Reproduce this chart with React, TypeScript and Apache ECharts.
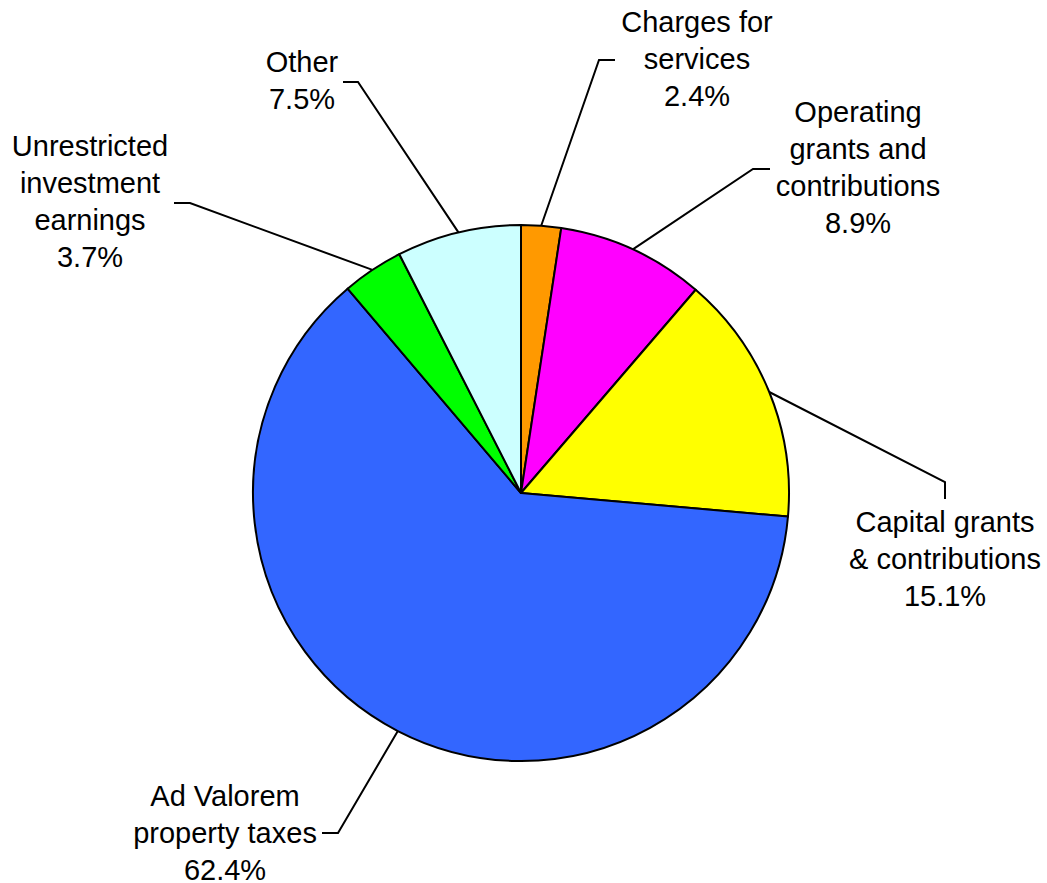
import React, { useEffect, useRef } from "react";
import * as echarts from "echarts";

const categories = [
  "Charges for services",
  "Operating grants and contributions",
  "Capital grants & contributions",
  "Ad Valorem property taxes",
  "Unrestricted investment earnings",
  "Other",
];
const labelTexts = [
  "Charges for\nservices",
  "Operating\ngrants and\ncontributions",
  "Capital grants\n& contributions",
  "Ad Valorem\nproperty taxes",
  "Unrestricted\ninvestment\nearnings",
  "Other",
];
const percentValues = [2.4, 8.9, 15.1, 62.4, 3.7, 7.5];
const sliceColors = ["#FF9900", "#FF00FF", "#FFFF00", "#3366FF", "#00FF00", "#CCFFFF"];

// label placement (layout only): label centre, elbow of leader, end of leader
const labelPlacement = [
  { x: 697, y: 59, elbow: [599, 60], end: [615, 60] },
  { x: 858, y: 167, elbow: [753, 169], end: [770, 169] },
  { x: 945, y: 559, elbow: [945, 482], end: [945, 499] },
  { x: 225, y: 833, elbow: [338, 833], end: [322, 833] },
  { x: 90, y: 201, elbow: [190, 203], end: [174, 203] },
  { x: 302, y: 80, elbow: [358, 82], end: [343, 82] },
];

export default function App() {
  const ref = useRef<HTMLDivElement>(null);
  useEffect(() => {
    document.body.style.margin = "0";
    const chart = echarts.init(ref.current!, null, { renderer: "svg" });
    chart.setOption({
      animation: false,
      backgroundColor: "#ffffff",
      series: [
        {
          type: "pie",
          center: [521, 493],
          radius: 268,
          startAngle: 90,
          clockwise: true,
          avoidLabelOverlap: false,
          data: categories.map((name, i) => ({
            name,
            value: percentValues[i],
            itemStyle: { color: sliceColors[i] },
          })),
          itemStyle: { borderColor: "#000000", borderWidth: 2 },
          emphasis: { disabled: true },
          label: {
            show: true,
            position: "outside",
            color: "#000000",
            fontFamily: "'Liberation Sans', Arial, sans-serif",
            fontSize: 29,
            lineHeight: 37,
            align: "center",
            formatter: (p: any) =>
              labelTexts[p.dataIndex] + "\n" + percentValues[p.dataIndex].toFixed(1) + "%",
          },
          labelLine: {
            show: true,
            length: 20,
            length2: 20,
            smooth: false,
            lineStyle: { color: "#000000", width: 2 },
          },
          labelLayout: (params: any) => {
            const pl = labelPlacement[params.dataIndex];
            const start = params.labelLinePoints ? params.labelLinePoints[0] : pl.elbow;
            return {
              x: pl.x,
              y: pl.y,
              align: "center",
              verticalAlign: "middle",
              labelLinePoints: [start, pl.elbow, pl.end],
            };
          },
        },
      ],
    });
    return () => chart.dispose();
  }, []);
  return <div ref={ref} style={{ width: 1047, height: 883 }} />;
}
